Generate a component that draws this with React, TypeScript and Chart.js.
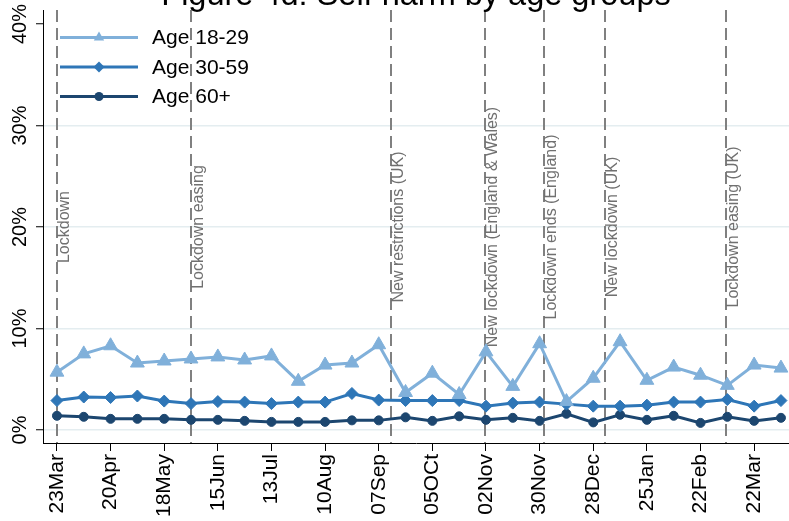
import React, { useEffect, useRef } from 'react';
import { Chart, registerables } from 'chart.js';

Chart.register(...registerables);

const TITLE = 'Figure 4d: Self harm by age groups';

// biweekly observations, 23 Mar 2020 .. 05 Apr 2021 (index 0..27)
const AGE_18_29 = [5.7, 7.5, 8.3, 6.6, 6.8, 7.0, 7.2, 6.9, 7.3, 4.8, 6.4, 6.6, 8.4, 3.7, 5.6, 3.5, 7.7, 4.3, 8.5, 2.8, 5.1, 8.7, 4.9, 6.2, 5.4, 4.4, 6.4, 6.1];
const AGE_30_59 = [2.9, 3.25, 3.2, 3.35, 2.85, 2.6, 2.8, 2.75, 2.6, 2.75, 2.75, 3.6, 2.95, 2.9, 2.9, 2.9, 2.35, 2.65, 2.75, 2.55, 2.35, 2.35, 2.45, 2.75, 2.75, 3.0, 2.35, 2.9];
const AGE_60_PLUS = [1.4, 1.3, 1.1, 1.1, 1.1, 1.0, 1.0, 0.9, 0.8, 0.8, 0.8, 0.95, 0.95, 1.25, 0.9, 1.35, 1.0, 1.2, 0.9, 1.6, 0.75, 1.5, 1.0, 1.4, 0.7, 1.3, 0.9, 1.2];

const SERIES_LABELS = ['Age 18-29', 'Age 30-59', 'Age 60+'];
const SERIES_COLORS = ['#80b0da', '#2e76b7', '#1c466f'];
const SERIES_MARKERS = ['triangle', 'rectRot', 'circle'];

const X_TICK_POSITIONS = [0, 2, 4, 6, 8, 10, 12, 14, 16, 18, 20, 22, 24, 26];
const X_TICK_LABELS = ['23Mar', '20Apr', '18May', '15Jun', '13Jul', '10Aug', '07Sep', '05OCt', '02Nov', '30Nov', '28Dec', '25Jan', '22Feb', '22Mar'];
const Y_TICKS = [0, 10, 20, 30, 40];

const EVENT_POSITIONS = [0, 5, 12.45, 15.95, 18.15, 20.45, 24.95];
const EVENT_LABELS = ['Lockdown', 'Lockdown easing', 'New restrictions (UK)', 'New lockdown (England & Wales)', 'Lockdown ends (England)', 'New lockdown (UK)', 'Lockdown easing (UK)'];

const FONT = '"Liberation Sans", Arial, Helvetica, sans-serif';

function drawMarker(ctx: CanvasRenderingContext2D, style: string, x: number, y: number, r: number) {
  ctx.beginPath();
  if (style === 'triangle') {
    for (let k = 0; k < 3; k++) {
      const a = -Math.PI / 2 + (k * 2 * Math.PI) / 3;
      const px = x + Math.cos(a) * r;
      const py = y + Math.sin(a) * r;
      if (k === 0) ctx.moveTo(px, py); else ctx.lineTo(px, py);
    }
    ctx.closePath();
  } else if (style === 'rectRot') {
    ctx.moveTo(x, y - r);
    ctx.lineTo(x + r, y);
    ctx.lineTo(x, y + r);
    ctx.lineTo(x - r, y);
    ctx.closePath();
  } else {
    ctx.arc(x, y, r, 0, Math.PI * 2);
  }
  ctx.fill();
}

const eventLinesPlugin = {
  id: 'eventLines',
  beforeDatasetsDraw(chart: any) {
    const { ctx, chartArea, scales } = chart;
    const xs = scales.x;
    const ys = scales.y;
    ctx.save();
    ctx.strokeStyle = '#808080';
    ctx.lineWidth = 2;
    ctx.setLineDash([12, 6]);
    EVENT_POSITIONS.forEach((p) => {
      const px = Math.round(xs.getPixelForValue(p));
      ctx.beginPath();
      ctx.moveTo(px, chartArea.top);
      ctx.lineTo(px, chartArea.bottom);
      ctx.stroke();
    });
    ctx.setLineDash([]);
    ctx.fillStyle = '#707070';
    ctx.font = `16px ${FONT}`;
    ctx.textAlign = 'center';
    ctx.textBaseline = 'alphabetic';
    const ly = ys.getPixelForValue(20);
    EVENT_POSITIONS.forEach((p, i) => {
      const px = Math.round(xs.getPixelForValue(p));
      ctx.save();
      ctx.translate(px + 11.5, ly);
      ctx.rotate(-Math.PI / 2);
      ctx.fillText(EVENT_LABELS[i], 0, 0);
      ctx.restore();
    });
    ctx.restore();
  },
};

const insideLegendPlugin = {
  id: 'insideLegend',
  afterDatasetsDraw(chart: any) {
    const { ctx, chartArea } = chart;
    ctx.save();
    chart.data.datasets.forEach((ds: any, i: number) => {
      const y = chartArea.top + 27.5 + i * 29.5;
      const x0 = chartArea.left + 17;
      const x1 = chartArea.left + 95;
      const xm = chartArea.left + 56;
      ctx.strokeStyle = ds.borderColor;
      ctx.fillStyle = ds.borderColor;
      ctx.lineWidth = 3;
      ctx.beginPath();
      ctx.moveTo(x0, y);
      ctx.lineTo(x1, y);
      ctx.stroke();
      const r = ds.pointStyle === 'circle' ? 4.5 : ds.pointStyle === 'triangle' ? 6 : 5.5;
      drawMarker(ctx, ds.pointStyle, xm, y, r);
      ctx.fillStyle = '#000';
      ctx.font = `21px ${FONT}`;
      ctx.textAlign = 'left';
      ctx.textBaseline = 'middle';
      ctx.fillText(ds.label, chartArea.left + 109, y + 1);
    });
    ctx.restore();
  },
};

const titlePlugin = {
  id: 'cutTitle',
  afterDraw(chart: any) {
    const { ctx, chartArea } = chart;
    ctx.save();
    ctx.fillStyle = '#000';
    ctx.font = `32.5px ${FONT}`;
    ctx.textAlign = 'center';
    ctx.textBaseline = 'alphabetic';
    ctx.fillText(TITLE, (chartArea.left + chartArea.right) / 2, 5);
    ctx.restore();
  },
};

export default function App() {
  const ref = useRef<HTMLCanvasElement | null>(null);

  useEffect(() => {
    document.body.style.margin = '0';
    const canvas = ref.current;
    if (!canvas) return;
    const seriesValues = [AGE_18_29, AGE_30_59, AGE_60_PLUS];
    const radii = [8, 6, 4.5];
    const chart = new Chart(canvas, {
      type: 'line',
      data: {
        datasets: seriesValues.map((vals, s) => ({
          label: SERIES_LABELS[s],
          data: vals.map((v, i) => ({ x: i, y: v })),
          borderColor: SERIES_COLORS[s],
          backgroundColor: SERIES_COLORS[s],
          borderWidth: 3,
          pointStyle: SERIES_MARKERS[s] as any,
          pointRadius: radii[s],
          pointBorderWidth: 1,
          pointBackgroundColor: SERIES_COLORS[s],
          pointBorderColor: SERIES_COLORS[s],
          tension: 0,
        })),
      },
      options: {
        animation: false,
        responsive: false,
        devicePixelRatio: 1,
        layout: { autoPadding: false, padding: { top: 10, left: 0, right: 0, bottom: 0 } },
        plugins: {
          legend: { display: false },
          title: { display: false },
          tooltip: { enabled: false },
        },
        scales: {
          x: {
            type: 'linear',
            min: -0.52,
            max: 27.3,
            afterBuildTicks: (s: any) => {
              s.ticks = X_TICK_POSITIONS.map((v) => ({ value: v }));
            },
            afterFit: (s: any) => {
              s.height = 78;
              s.paddingLeft = 0;
              s.paddingRight = 0;
            },
            ticks: {
              callback: (_v: any, i: number) => X_TICK_LABELS[i],
              minRotation: 90,
              maxRotation: 90,
              autoSkip: false,
              padding: 3,
              color: '#000',
              font: { family: FONT, size: 21 },
            },
            grid: {
              drawOnChartArea: false,
              drawTicks: true,
              tickLength: 8,
              tickColor: '#000',
              tickWidth: 1,
            },
            border: { display: true, color: '#000', width: 1 },
          },
          y: {
            type: 'linear',
            min: -1.28,
            max: 41.38,
            afterBuildTicks: (s: any) => {
              s.ticks = Y_TICKS.map((v) => ({ value: v }));
            },
            afterFit: (s: any) => {
              s.width = 43;
            },
            ticks: {
              callback: (v: any) => `${v}%`,
              minRotation: 90,
              maxRotation: 90,
              crossAlign: 'center',
              padding: -4,
              color: '#000',
              font: { family: FONT, size: 20 },
            },
            grid: {
              color: (c: any) => (c.tick && c.tick.value === 40 ? 'rgba(0,0,0,0)' : '#e4edf0'),
              lineWidth: 1.5,
              drawTicks: true,
              tickLength: 7,
              tickColor: '#000',
              tickWidth: 1,
            },
            border: { display: true, color: '#000', width: 1 },
          },
        },
      },
      plugins: [eventLinesPlugin, insideLegendPlugin, titlePlugin],
    });
    return () => chart.destroy();
  }, []);

  return <canvas ref={ref} width={789} height={521} style={{ display: 'block' }} />;
}
